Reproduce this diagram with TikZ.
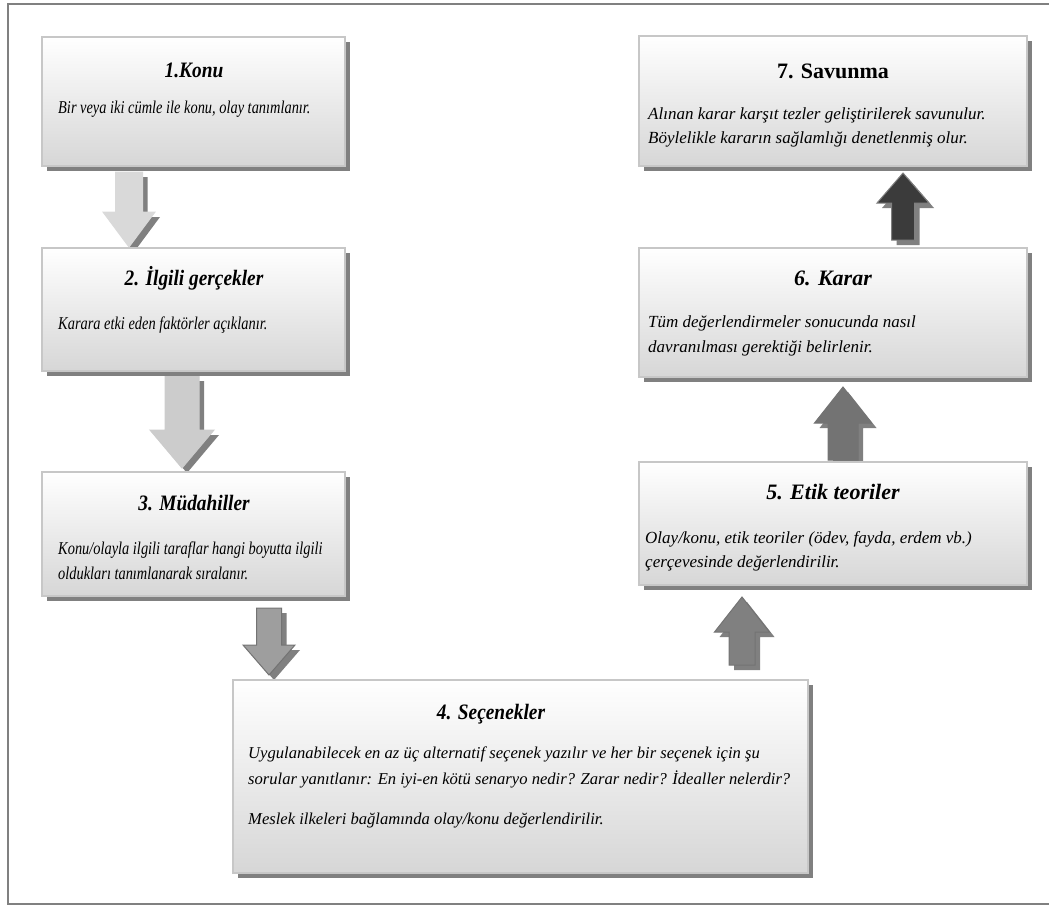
\documentclass[tikz,border=0pt]{standalone}
\usepackage{fontspec}
\setmainfont{Liberation Serif}
\newfontfamily\narrowbody{Liberation Serif}[FakeStretch=0.8]
\newfontfamily\narrowtitle{Liberation Serif}[FakeStretch=0.88]
\usetikzlibrary{shadows}
\definecolor{framecol}{gray}{0.5}
\definecolor{boxline}{gray}{0.78}
\definecolor{shad}{gray}{0.5}
\definecolor{boxbot}{gray}{0.84}
\definecolor{aone}{gray}{0.85}
\definecolor{atwo}{gray}{0.80}
\definecolor{athree}{gray}{0.62}
\definecolor{afour}{gray}{0.50}
\definecolor{afive}{gray}{0.45}
\definecolor{asix}{gray}{0.23}
\definecolor{aline}{gray}{0.45}
\newcommand\BArrow[8]{%
  \begin{scope}[xshift=5pt,yshift=-5pt]
    \fill[shad] ({#1-#2},#3) -- ({#1+#2},#3) -- ({#1+#2},#4) -- ({#1+#5},#4) -- (#1,#6) -- ({#1-#5},#4) -- ({#1-#2},#4) -- cycle;
  \end{scope}
  \filldraw[fill=#7,draw=#8,line width=1pt] ({#1-#2},#3) -- ({#1+#2},#3) -- ({#1+#2},#4) -- ({#1+#5},#4) -- (#1,#6) -- ({#1-#5},#4) -- ({#1-#2},#4) -- cycle;
}
\tikzset{
  box/.style={draw=boxline, line width=1.2pt, top color=white, bottom color=boxbot,
    inner sep=0pt, outer sep=0pt, anchor=north west,
    drop shadow={shadow xshift=5pt, shadow yshift=-5pt, fill=shad, opacity=1}},
  title/.style={anchor=base, inner sep=0pt, font=\fontsize{22}{26}\selectfont\bfseries\itshape},
  ntitle/.style={anchor=base, inner sep=0pt, font=\narrowtitle\fontsize{22}{26}\selectfont\bfseries\itshape},
  titleup/.style={anchor=base, inner sep=0pt, font=\fontsize{22}{26}\selectfont\bfseries},
  body/.style={anchor=base west, inner sep=0pt, font=\fontsize{17}{22}\selectfont\itshape},
  wbody/.style={anchor=base west, inner sep=0pt, font=\fontsize{16.6}{22}\selectfont\itshape},
  nbody/.style={anchor=base west, inner sep=0pt, font=\narrowbody\fontsize{18}{22}\selectfont\itshape}
}
\begin{document}
\begin{tikzpicture}[x=1pt,y=-1pt]
\useasboundingbox (0,0) rectangle (1049,906);
\draw[framecol, line width=2pt] (1049,4) -- (8,4) -- (8,904) -- (1049,904);

% arrows
\BArrow{129}{13.5}{172}{212}{26}{247}{aone}{aone}
\BArrow{182}{17}{376}{430}{32}{468}{atwo}{atwo}
\BArrow{269}{12.5}{608}{645}{26}{675}{athree}{aline}
\BArrow{742}{13}{665}{632}{27.5}{597}{afour}{aline}
\BArrow{843}{15}{460}{423}{28.5}{387}{afive}{afive}
\BArrow{903}{11.5}{240}{203}{26}{173}{asix}{shad}

% boxes
\node[box, minimum width=303pt, minimum height=129pt] (k1) at (42,37) {};
\node[box, minimum width=303pt, minimum height=123pt] (k2) at (42,248) {};
\node[box, minimum width=303pt, minimum height=124pt] (k3) at (42,472) {};
\node[box, minimum width=575pt, minimum height=193pt] (k4) at (233,680) {};
\node[box, minimum width=388pt, minimum height=123pt] (k5) at (639,462) {};
\node[box, minimum width=388pt, minimum height=129pt] (k6) at (639,248) {};
\node[box, minimum width=388pt, minimum height=130pt] (k7) at (639,36) {};

% texts
\node[ntitle] (t1) at (194,77) {1.Konu};
\node[nbody] (b1) at (58,113) {Bir veya iki cümle ile konu, olay tanımlanır.};

\node[ntitle] (t2) at (194,285) {2. İlgili gerçekler};
\node[nbody] (b2) at (58,329) {Karara etki eden faktörler açıklanır.};

\node[ntitle] (t3) at (194,510) {3. Müdahiller};
\node[nbody] (b3a) at (58,554) {Konu/olayla ilgili taraflar hangi boyutta ilgili};
\node[nbody] (b3b) at (58,579) {oldukları tanımlanarak sıralanır.};

\node[ntitle] (t4) at (491,719) {4. Seçenekler};
\node[wbody] (b4a) at (248,758) {Uygulanabilecek en az üç alternatif seçenek yazılır ve her bir seçenek için şu};
\node[wbody] (b4b) at (248,784) {sorular yanıtlanır: En iyi-en kötü senaryo nedir? Zarar nedir? İdealler nelerdir?};
\node[wbody] (b4c) at (248,824) {Meslek ilkeleri bağlamında olay/konu değerlendirilir.};

\node[title] (t5) at (833,499) {5. Etik teoriler};
\node[body] (b5a) at (645,543) {Olay/konu, etik teoriler (ödev, fayda, erdem vb.)};
\node[body] (b5b) at (645,567) {çerçevesinde değerlendirilir.};

\node[title] (t6) at (833,285) {6. Karar};
\node[body] (b6a) at (648,327) {Tüm değerlendirmeler sonucunda nasıl};
\node[body] (b6b) at (648,352) {davranılması gerektiği belirlenir.};

\node[titleup] (t7) at (833,78) {7. Savunma};
\node[body] (b7a) at (648,119) {Alınan karar karşıt tezler geliştirilerek savunulur.};
\node[body] (b7b) at (648,143) {Böylelikle kararın sağlamlığı denetlenmiş olur.};
\end{tikzpicture}
\end{document}
